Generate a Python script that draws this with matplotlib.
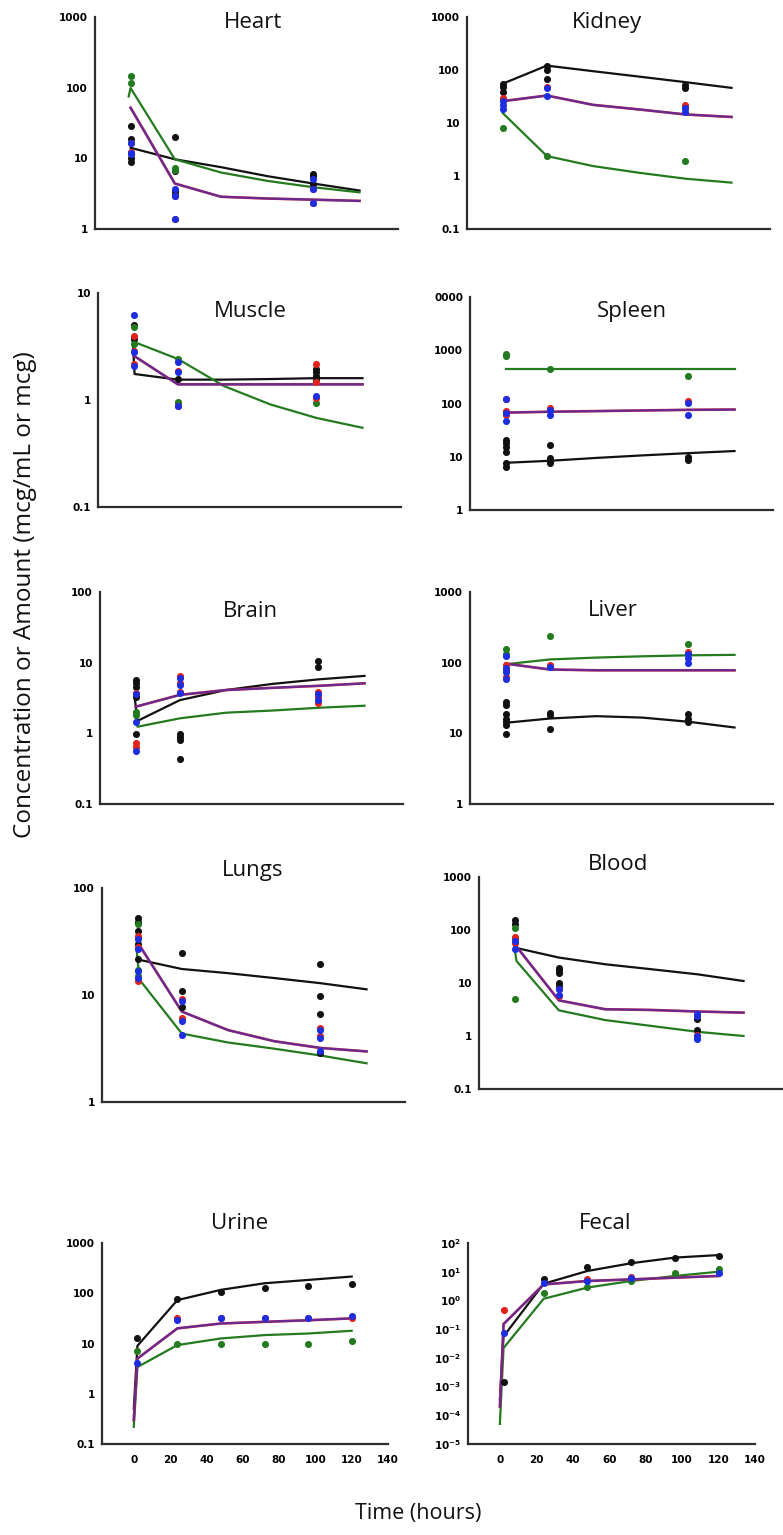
import numpy as np
import matplotlib
matplotlib.use("Agg")
import matplotlib.pyplot as plt

W, H = 783, 1535

# sampling times (hours)
sample_t = [1, 24, 96]
fit_t = [1, 24, 48, 72, 96, 120]
fit_t_early = [0.5, 2, 24, 48, 72, 96, 120]

# ---------------- Heart ----------------
heart_black = [[28.7, 18.6, 10.0, 8.9], [20.3, 6.6, 3.5, 3.1], [6.1, 5.6, 4.3]]
heart_red = [[16.7, 12.3], [2.95, 1.38], [3.7, 2.3]]
heart_blue = [[16.7, 12.0, 11.5], [3.7, 2.95, 1.38], [5.1, 3.7, 2.3]]
heart_green = [[148, 117], [7.2, 6.9], []]
heart_fit_black = [14.1, 9.7, 7.5, 5.6, 4.4, 3.5]
heart_fit_green_t = [0, 1, 24, 48, 72, 96, 120]
heart_fit_green = [75, 99, 9.7, 6.3, 4.8, 3.9, 3.3]
heart_fit_rb = [52, 4.4, 2.86, 2.7, 2.6, 2.5]

# ---------------- Kidney ----------------
kidney_black = [[55, 48, 38], [121, 101, 68.5], [53, 46]]
kidney_red = [[29.6, 27.6], [48], [22.3, 19]]
kidney_blue = [[25.8, 21.4, 18.5], [46, 32], [19.3, 16]]
kidney_green = [[8.1], [2.38], [1.9]]
kidney_fit_black = [55, 121, 95, 75, 59, 46]
kidney_fit_green = [15.5, 2.38, 1.54, 1.15, 0.89, 0.75]
kidney_fit_rb = [25.8, 33, 22, 18, 14.5, 13]

# ---------------- Muscle ----------------
muscle_black = [[5.0, 3.7], [1.57], [1.95, 1.81, 1.69, 1.57]]
muscle_red = [[3.97, 2.9, 2.17], [1.88, 0.88], [2.17, 1.46, 1.05]]
muscle_blue = [[6.2, 2.8, 2.1], [2.25, 1.81, 0.87], [1.09]]
muscle_green = [[4.8, 3.35], [2.42, 0.96, 0.93], [0.94]]
muscle_fit_black_t = [0.5, 1.5, 24, 48, 72, 96, 120]
muscle_fit_black = [3.9, 1.75, 1.55, 1.55, 1.57, 1.6, 1.6]
muscle_fit_green = [3.5, 2.42, 1.35, 0.91, 0.68, 0.55]
muscle_fit_rb = [2.6, 1.4, 1.4, 1.4, 1.4, 1.4]

# ---------------- Spleen ----------------
spleen_black = [[20.5, 17.8, 15.4, 12.4, 7.5, 6.5], [16.6, 9.3, 8.4, 7.5], [9.7, 8.7]]
spleen_red = [[119, 71, 60], [83], [110]]
spleen_blue = [[119, 65, 47], [77, 62], [100, 62]]
spleen_green = [[865, 776], [440], [330]]
spleen_fit_black = [7.7, 8.4, 9.5, 10.6, 11.7, 12.8]
spleen_fit_green = [440, 440, 440, 440, 440, 440]
spleen_fit_rb = [67.5, 70, 72, 74, 76, 77]

# ---------------- Brain ----------------
brain_black = [[5.67, 5.1, 4.56, 3.3, 0.98], [0.98, 0.9, 0.8, 0.43], [10.6, 8.6]]
brain_red = [[3.67, 0.72, 0.65], [6.5, 5.1, 3.9], [3.9, 3.3, 2.7]]
brain_blue = [[3.6, 1.46, 0.57], [6.1, 4.8, 3.7], [3.6, 2.95]]
brain_green = [[2.0, 1.8], [], []]
brain_fit_black = [3.3, 1.5, 2.95, 4.1, 5.0, 5.8, 6.5]
brain_fit_green = [2.0, 1.24, 1.63, 1.96, 2.1, 2.3, 2.46]
brain_fit_rb = [2.38, 3.5, 4.1, 4.4, 4.7, 5.1]

# ---------------- Liver ----------------
liver_black = [[28, 25, 19, 16.2, 14.6, 13.1, 9.8], [19.5, 18.1, 11.7], [18.5, 16.2, 14.6]]
liver_red = [[92, 78, 63], [92], [143]]
liver_blue = [[123, 83, 74, 59.5], [87], [134, 115, 100]]
liver_green = [[158, 132], [237], [186]]
liver_fit_black = [14.1, 16.2, 17.5, 16.7, 14.6, 12.1]
liver_fit_green = [95, 111, 118, 123, 127, 129]
liver_fit_rb = [97, 80, 78, 78, 78, 78]

# ---------------- Lungs ----------------
lungs_black = [[53, 47.7, 40, 34.5, 29.8, 21.5], [24.5, 10.9, 7.8], [19.5, 9.7, 6.6, 2.87]]
lungs_red = [[35.8, 27.8, 13.5], [9.2, 6.05], [4.9, 4.1]]
lungs_blue = [[33.2, 26.7, 16.7, 14.3], [8.8, 5.74, 4.27], [4.7, 4.0, 3.0]]
lungs_green = [[46, 17.3, 15], [], []]
lungs_fit_black = [21.5, 17.5, 16, 14.4, 12.9, 11.3]
lungs_fit_green = [26.7, 13.9, 4.36, 3.6, 3.15, 2.72, 2.3]
lungs_fit_rb = [31, 7.0, 4.7, 3.7, 3.2, 2.97]

# ---------------- Blood ----------------
blood_black = [[155, 128, 72], [19.6, 17.4, 15.7, 10.2, 8.8], [2.06, 1.28]]
blood_red = [[75, 58], [7.8, 5.7], [1.03]]
blood_blue = [[62.5, 43], [7.6, 6.0], [2.64, 2.4, 1.0, 0.89]]
blood_green = [[107, 4.94], [], []]
blood_fit_black = [46.6, 30.2, 22.6, 18.2, 14.6, 10.9]
blood_fit_green = [58, 26, 3.05, 2.0, 1.55, 1.2, 1.0]
blood_fit_rb = [54, 4.7, 3.2, 3.1, 2.9, 2.76]

# ---------------- Urine (cumulative) ----------------
excr_fit_t = [0, 2, 24, 48, 72, 96, 120]
urine_black_t = [2, 24, 48, 72, 96, 120]
urine_black = [12.6, 75.8, 108, 126, 140, 151]
urine_red_t = [24, 48, 72, 96, 120]
urine_red = [32.6, 32.6, 32.6, 32.6, 31.6]
urine_blue_t = [2, 24, 48, 72, 96, 120]
urine_blue = [4.0, 29.3, 32.6, 32.6, 32.6, 35]
urine_green_t = [2, 24, 48, 72, 96, 120]
urine_green = [7.0, 9.7, 10, 10, 10, 11.1]
urine_fit_black = [0.5, 9, 73, 117, 158, 184, 215]
urine_fit_green = [0.22, 3.4, 9.3, 12.6, 14.7, 15.8, 17.9]
urine_fit_rb = [0.3, 5.0, 20, 25, 27, 29, 31.6]

# ---------------- Fecal (cumulative) ----------------
fecal_black_t = [2, 24, 48, 72, 96, 120]
fecal_black = [1.5e-3, 5.7, 14.7, 21, 29.5, 35.7]
fecal_red_t = [2, 48, 72]
fecal_red = [0.46, 5.7, 6.7]
fecal_blue_t = [2, 24, 48, 72, 120]
fecal_blue = [0.074, 4.2, 4.75, 6.2, 8.8]
fecal_green_t = [24, 48, 72, 96, 120]
fecal_green = [1.85, 2.9, 4.75, 8.8, 12.2]
fecal_fit_black = [3.5e-4, 0.056, 3.8, 10.6, 19.7, 31, 38]
fecal_fit_green = [5e-5, 0.022, 1.14, 2.8, 4.75, 7.1, 10]
fecal_fit_rb = [2e-4, 0.15, 3.6, 4.75, 5.4, 6.2, 7.1]

# tick labels
ticks_1_1000 = ["1", "10", "100", "1000"]
ticks_01_1000 = ["0.1", "1", "10", "100", "1000"]
ticks_01_10 = ["0.1", "1", "10"]
ticks_1_10000 = ["1", "10", "100", "1000", "0000"]
ticks_01_100 = ["0.1", "1", "10", "100"]
ticks_1_100 = ["1", "10", "100"]
time_ticks = [0, 20, 40, 60, 80, 100, 120, 140]

BLACK = "#111111"
RED = "#e3231b"
BLUE = "#1c2ee0"
GREEN = "#237a1f"
SPINE = "#2e2e2e"

fig = plt.figure(figsize=(W / 100, H / 100), dpi=100)


def make_axes(left, top, right, bottom):
    ax = fig.add_axes([left / W, 1 - bottom / H, (right - left) / W, (bottom - top) / H])
    ax.set_yscale("log")
    for s in ["top", "right"]:
        ax.spines[s].set_visible(False)
    for s in ["left", "bottom"]:
        ax.spines[s].set_color(SPINE)
        ax.spines[s].set_linewidth(1.6)
    ax.tick_params(axis="both", which="both", length=0)
    ax.tick_params(axis="y", pad=5)
    ax.minorticks_off()
    return ax


def set_yticks(ax, labels):
    vals = [float(l) if l != "0000" else 10000.0 for l in labels]
    ax.set_ylim(vals[0], vals[-1])
    ax.set_yticks(vals)
    ax.set_yticklabels(labels, fontsize=7.5, fontweight="bold", family="DejaVu Sans")
    ax.minorticks_off()


def dots(ax, groups, color, times=sample_t):
    for t, vals in zip(times, groups):
        if len(vals):
            ax.scatter([t] * len(vals), vals, s=26, color=color, linewidths=0, zorder=4)


def fits(ax, t_black, black, t_green, green, t_rb, rb):
    ax.plot(t_black, black, color=BLACK, lw=1.6, zorder=2)
    ax.plot(t_green, green, color=GREEN, lw=1.6, zorder=2)
    ax.plot(t_rb, rb, color=RED, lw=1.9, zorder=2)
    ax.plot(t_rb, rb, color=BLUE, lw=1.6, alpha=0.62, zorder=3)


def title(x, y, text):
    fig.text(x / W, 1 - y / H, text, ha="center", va="baseline",
             fontsize=16, family="Open Sans", color="#111111")


def organ_panel(box, ticks, black, red, blue, green, fit_args, name, tpos):
    ax = make_axes(*box)
    fits(ax, *fit_args)
    dots(ax, black, BLACK)
    dots(ax, green, GREEN)
    dots(ax, red, RED)
    dots(ax, blue, BLUE)
    ax.set_xlim(-17.5, 140)
    ax.set_xticks([])
    set_yticks(ax, ticks)
    title(tpos[0], tpos[1], name)
    return ax


organ_panel((95, 17, 398, 229), ticks_1_1000, heart_black, heart_red, heart_blue, heart_green,
            (fit_t, heart_fit_black, heart_fit_green_t, heart_fit_green, fit_t, heart_fit_rb),
            "Heart", (253, 28))
organ_panel((467, 17, 770, 229), ticks_01_1000, kidney_black, kidney_red, kidney_blue, kidney_green,
            (fit_t, kidney_fit_black, fit_t, kidney_fit_green, fit_t, kidney_fit_rb),
            "Kidney", (607, 28))
organ_panel((98, 293, 401, 507), ticks_01_10, muscle_black, muscle_red, muscle_blue, muscle_green,
            (muscle_fit_black_t, muscle_fit_black, fit_t, muscle_fit_green, fit_t, muscle_fit_rb),
            "Muscle", (250, 317))
organ_panel((470, 297, 773, 510), ticks_1_10000, spleen_black, spleen_red, spleen_blue, spleen_green,
            (fit_t, spleen_fit_black, fit_t, spleen_fit_green, fit_t, spleen_fit_rb),
            "Spleen", (632, 317))
organ_panel((100, 592, 403, 804), ticks_01_100, brain_black, brain_red, brain_blue, brain_green,
            (fit_t_early, brain_fit_black, fit_t_early, brain_fit_green, fit_t, brain_fit_rb),
            "Brain", (250, 617))
organ_panel((470, 592, 773, 804), ticks_1_1000, liver_black, liver_red, liver_blue, liver_green,
            (fit_t, liver_fit_black, fit_t, liver_fit_green, fit_t, liver_fit_rb),
            "Liver", (613, 616))
organ_panel((102, 888, 405, 1102), ticks_1_100, lungs_black, lungs_red, lungs_blue, lungs_green,
            (fit_t, lungs_fit_black, fit_t_early, lungs_fit_green, fit_t, lungs_fit_rb),
            "Lungs", (253, 876))
organ_panel((479, 877, 782, 1089), ticks_01_1000, blood_black, blood_red, blood_blue, blood_green,
            (fit_t, blood_fit_black, fit_t_early, blood_fit_green, fit_t, blood_fit_rb),
            "Blood", (618, 870))


def excretion_panel(box, name, tpos, series, fit_args):
    ax = make_axes(*box)
    fits(ax, *fit_args)
    for t, vals, c in series:
        ax.scatter(t, vals, s=26, color=c, linewidths=0, zorder=4)
    ax.set_xlim(-17.5, 140)
    ax.set_xticks(time_ticks)
    ax.set_xticklabels([str(v) for v in time_ticks], fontsize=7.5, fontweight="bold",
                       family="DejaVu Sans")
    ax.tick_params(axis="x", pad=8)
    title(tpos[0], tpos[1], name)
    return ax


ax_u = excretion_panel((102, 1243, 388, 1444), "Urine", (240, 1229),
                       [(urine_black_t, urine_black, BLACK), (urine_green_t, urine_green, GREEN),
                        (urine_red_t, urine_red, RED), (urine_blue_t, urine_blue, BLUE)],
                       (excr_fit_t, urine_fit_black, excr_fit_t, urine_fit_green, excr_fit_t, urine_fit_rb))
set_yticks(ax_u, ticks_01_1000)

ax_f = excretion_panel((468, 1243, 755, 1444), "Fecal", (605, 1229),
                       [(fecal_black_t, fecal_black, BLACK), (fecal_green_t, fecal_green, GREEN),
                        (fecal_red_t, fecal_red, RED), (fecal_blue_t, fecal_blue, BLUE)],
                       (excr_fit_t, fecal_fit_black, excr_fit_t, fecal_fit_green, excr_fit_t, fecal_fit_rb))
ax_f.set_ylim(1e-5, 1e2)
fecal_ticks = [10.0 ** k for k in range(-5, 3)]
ax_f.set_yticks(fecal_ticks)
ax_f.set_yticklabels([r"$\mathbf{10^{%d}}$" % k for k in range(-5, 3)], fontsize=7.5)
ax_f.minorticks_off()

fig.text(25 / W, 1 - 595 / H, "Concentration or Amount (mcg/mL or mcg)", rotation=90,
         ha="center", va="center", fontsize=17.5, family="Open Sans", color="#111111")
fig.text(418 / W, 1 - 1513 / H, "Time (hours)", ha="center", va="center",
         fontsize=15.5, family="Open Sans", color="#111111")

fig.savefig("out.png", dpi=100)
